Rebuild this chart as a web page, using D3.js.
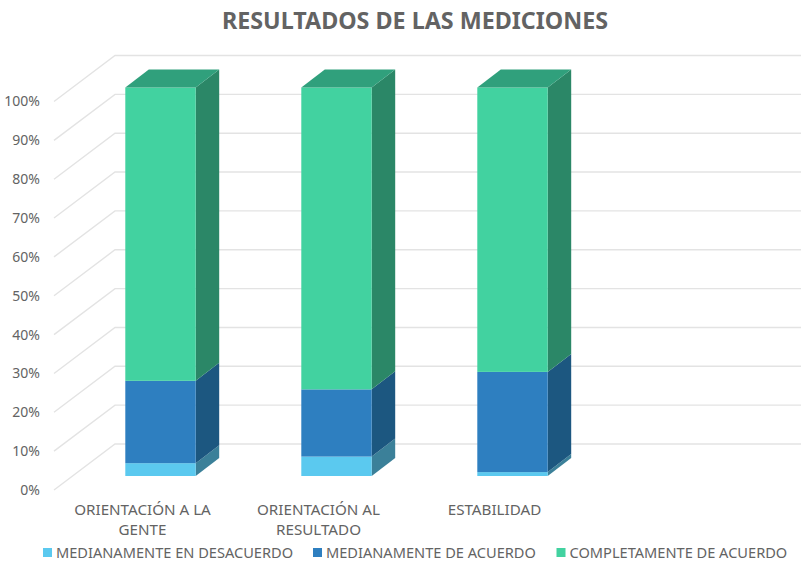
<!DOCTYPE html>
<html>
<head>
<meta charset="utf-8">
<script src="https://cdnjs.cloudflare.com/ajax/libs/d3/7.8.5/d3.min.js"></script>
<style>
	html, body { margin: 0; padding: 0; background: #fff; }
	svg { display: block; font-family: "Noto Sans", sans-serif; }
</style>
</head>
<body>
<svg width="801" height="563"></svg>
<script>
	const categories = ['ORIENTACIÓN A LA GENTE', 'ORIENTACIÓN AL RESULTADO', 'ESTABILIDAD'];
	const categoryLines = [['ORIENTACIÓN A LA', 'GENTE'], ['ORIENTACIÓN AL', 'RESULTADO'], ['ESTABILIDAD']];
	const seriesNames = ['MEDIANAMENTE EN DESACUERDO', 'MEDIANAMENTE DE ACUERDO', 'COMPLETAMENTE DE ACUERDO'];
	const desacuerdo = [3.3, 5.0, 1.0];
	const deAcuerdo = [21.2, 17.3, 25.8];
	const completamente = [75.5, 77.7, 73.2];
	const frontColors = ['#5bc9ef', '#2e7fc0', '#42d2a0'];
	const sideColors = ['#3b8099', '#1c5780', '#2b8767'];
	const topColor = '#30a07c';
	const gridColor = '#e3e3e3';
	const textColor = '#636363';

	const svg = d3.select('svg');
	const width = +svg.attr('width');

	// depth of the fake 3d box, as offsets from the bar's front face
	const barDx = 23.5, barDy = -18;
	const wallFrontDy = 14;
	const wallBackDx = 61, wallBackDy = -46;

	const x = d3.scaleBand()
		.domain(categories)
		.range([72.5, 600.5])
		.paddingInner(0.6)
		.paddingOuter(0.3);

	const y = d3.scaleLinear()
		.domain([0, 100])
		.range([476, 87.5]);

	const wallX = x.range()[0] - 18.5;

	const rows = categories.map(function(c, i) {
		return { category: c, s0: desacuerdo[i], s1: deAcuerdo[i], s2: completamente[i] };
	});
	const stacked = d3.stack().keys(['s0', 's1', 's2'])(rows);

	// walls
	const ticks = d3.range(0, 101, 10);
	const grid = svg.append('g')
		.attr('fill', 'none')
		.attr('stroke', gridColor)
		.attr('stroke-width', 1.4);
	grid.selectAll('path')
		.data(ticks)
		.enter().append('path')
		.attr('d', function(d) {
			const yf = y(d) + wallFrontDy;
			const line = d3.path();
			line.moveTo(wallX, yf);
			line.lineTo(wallX + wallBackDx, yf + wallBackDy);
			line.lineTo(width, yf + wallBackDy);
			return line.toString();
		});

	// y axis labels sit on the front edge of the left wall
	const axis = svg.append('g')
		.attr('transform', 'translate(' + (wallX - 14) + ',' + wallFrontDy + ')')
		.call(d3.axisLeft(y).tickValues(ticks).tickSize(0).tickPadding(0).tickFormat(function(d) { return d + '%'; }));
	axis.select('.domain').remove();
	axis.selectAll('text')
		.attr('font-family', '"Noto Sans", sans-serif')
		.attr('font-size', 14)
		.attr('fill', textColor);

	// bars
	const layers = svg.selectAll('.layer')
		.data(stacked)
		.enter().append('g')
		.attr('class', 'layer');

	layers.selectAll('.side')
		.data(function(s) { return s.map(function(d) { return { d: d, key: s.index }; }); })
		.enter().append('path')
		.attr('class', 'side')
		.attr('fill', function(d) { return sideColors[d.key]; })
		.attr('d', function(d) {
			const xr = x(d.d.data.category) + x.bandwidth();
			const y0 = y(d.d[0]), y1 = y(d.d[1]);
			return 'M' + xr + ',' + y0 + 'L' + (xr + barDx) + ',' + (y0 + barDy) +
				'L' + (xr + barDx) + ',' + (y1 + barDy) + 'L' + xr + ',' + y1 + 'Z';
		});

	layers.selectAll('.front')
		.data(function(s) { return s.map(function(d) { return { d: d, key: s.index }; }); })
		.enter().append('rect')
		.attr('class', 'front')
		.attr('fill', function(d) { return frontColors[d.key]; })
		.attr('x', function(d) { return x(d.d.data.category); })
		.attr('width', x.bandwidth())
		.attr('y', function(d) { return y(d.d[1]); })
		.attr('height', function(d) { return y(d.d[0]) - y(d.d[1]); });

	svg.append('g').selectAll('path')
		.data(stacked[2])
		.enter().append('path')
		.attr('fill', topColor)
		.attr('d', function(d) {
			const xl = x(d.data.category), xr = xl + x.bandwidth(), yt = y(d[1]);
			return 'M' + xl + ',' + yt + 'L' + (xl + barDx) + ',' + (yt + barDy) +
				'L' + (xr + barDx) + ',' + (yt + barDy) + 'L' + xr + ',' + yt + 'Z';
		});

	// category labels
	const labels = svg.selectAll('.cat')
		.data(categories)
		.enter().append('text')
		.attr('class', 'cat')
		.attr('text-anchor', 'middle')
		.attr('font-size', 15.2)
		.attr('fill', textColor);
	labels.selectAll('tspan')
		.data(function(d, i) { return categoryLines[i].map(function(t) { return { t: t, c: d }; }); })
		.enter().append('tspan')
		.attr('x', function(d) { return x(d.c) + x.bandwidth() / 2 - 18; })
		.attr('y', function(d, i) { return 514.5 + i * 20; })
		.text(function(d) { return d.t; });

	svg.append('text')
		.attr('x', 415)
		.attr('y', 29)
		.attr('text-anchor', 'middle')
		.attr('font-size', 23.3)
		.attr('font-weight', 700)
		.attr('fill', textColor)
		.text('RESULTADOS DE LAS MEDICIONES');

	// legend
	const legendX = [43, 313, 556.5];
	const legend = svg.selectAll('.legend')
		.data(seriesNames)
		.enter().append('g')
		.attr('class', 'legend')
		.attr('transform', function(d, i) { return 'translate(' + legendX[i] + ',548)'; });
	legend.append('rect')
		.attr('width', 9)
		.attr('height', 9)
		.attr('fill', function(d, i) { return frontColors[i]; });
	legend.append('text')
		.attr('x', 13)
		.attr('y', 10)
		.attr('font-size', 14.6)
		.attr('fill', textColor)
		.text(function(d) { return d; });
</script>
</body>
</html>
